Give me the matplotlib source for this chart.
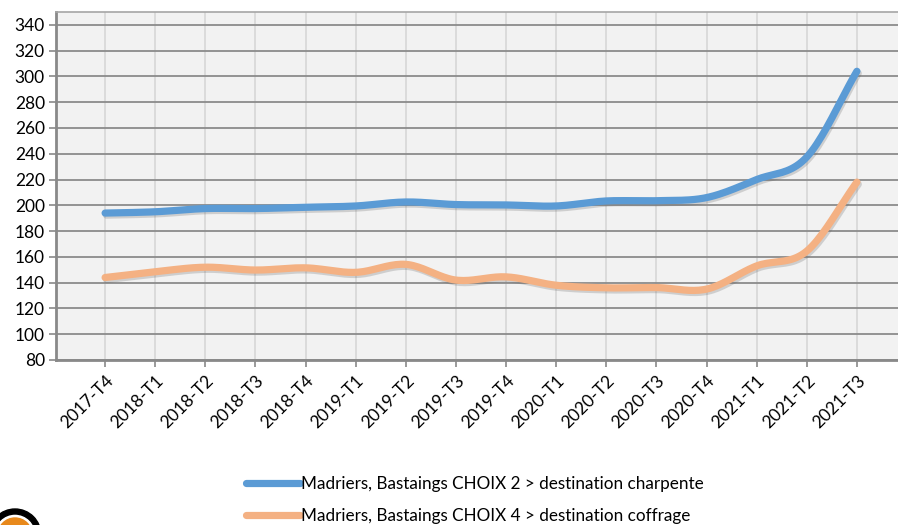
import numpy as np
import matplotlib
matplotlib.use('Agg')
import matplotlib.pyplot as plt
import matplotlib.patheffects as pe
from matplotlib.patches import Wedge, Circle

quarters = ['2017-T4', '2018-T1', '2018-T2', '2018-T3', '2018-T4',
            '2019-T1', '2019-T2', '2019-T3', '2019-T4', '2020-T1',
            '2020-T2', '2020-T3', '2020-T4', '2021-T1', '2021-T2', '2021-T3']
charpente = [194, 195, 197.5, 197.5, 198.5, 199.5, 202.6, 200.6,
             200.3, 199.5, 203.4, 203.6, 206, 220, 237.5, 304]
coffrage = [144, 148.5, 152, 149.8, 151.5, 148, 154.2, 142,
            144.5, 138, 136, 136.2, 135, 153, 164.5, 218]
labels = ['Madriers, Bastaings CHOIX 2 > destination charpente',
          'Madriers, Bastaings CHOIX 4 > destination coffrage']
colors = ['#5b9bd5', '#f4b183']


def smooth(y, n=20):
    # Catmull-Rom through the points, like Excel's smoothed line
    y = np.asarray(y, dtype=float)
    p = np.concatenate([[2 * y[0] - y[1]], y, [2 * y[-1] - y[-2]]])
    xs, ys = [], []
    for i in range(len(y) - 1):
        t = np.linspace(0, 1, n, endpoint=False)
        p0, p1, p2, p3 = p[i], p[i + 1], p[i + 2], p[i + 3]
        yy = 0.5 * ((2 * p1) + (-p0 + p2) * t + (2 * p0 - 5 * p1 + 4 * p2 - p3) * t ** 2
                    + (-p0 + 3 * p1 - 3 * p2 + p3) * t ** 3)
        xs.append(i + t)
        ys.append(yy)
    xs.append([len(y) - 1])
    ys.append([y[-1]])
    return np.concatenate(xs), np.concatenate(ys)


plt.rcParams['font.family'] = ['Lato', 'DejaVu Sans']
fig = plt.figure(figsize=(8.98, 5.25), dpi=100)
ax = fig.add_axes([56 / 898, 1 - 360 / 525, 1 - 56 / 898, 348 / 525])
ax.set_facecolor('#f2f2f2')

x = np.arange(len(quarters))
shadow = [pe.SimpleLineShadow(offset=(1.0, -1.5), shadow_color='0.4', alpha=0.25), pe.Normal()]
for series, lab, col in zip([charpente, coffrage], labels, colors):
    sx, sy = smooth(series)
    ax.plot(sx, sy, color=col, lw=5.2, solid_capstyle='round', label=lab,
            path_effects=shadow, zorder=3)

ax.set_xlim(-0.98, 15.82)
ax.set_ylim(80, 350)
ax.set_yticks(np.arange(80, 341, 20))
ax.set_xticks(x)
ax.set_xticklabels(quarters, rotation=45, ha='right', rotation_mode='anchor')
ax.tick_params(axis='y', labelsize=12.5, length=5, width=1.2, color='#898989', pad=3)
ax.tick_params(axis='x', labelsize=12.5, length=5, width=1.2, color='#898989', pad=4)

ax.grid(axis='y', color='#8c8c8c', lw=1.3)
ax.grid(axis='x', color='#d9d9d9', lw=1.3)
ax.set_axisbelow(True)
for side in ['left', 'bottom']:
    ax.spines[side].set_color('#898989')
    ax.spines[side].set_linewidth(2)
ax.spines['top'].set_color('#a6a6a6')
ax.spines['top'].set_linewidth(1.2)
ax.spines['right'].set_visible(False)

handles, labs = ax.get_legend_handles_labels()
leg = fig.legend(handles, labs, loc='upper left', bbox_to_anchor=(246 / 898, 1 - 476 / 525),
                 frameon=False, fontsize=12.3, handlelength=3.15, handletextpad=0.05,
                 labelspacing=0.95, borderpad=0, borderaxespad=0)
for h in leg.legend_handles:
    h.set_path_effects([])
    h.set_solid_capstyle('round')

# cut-off logo at the bottom left
fig.patches.append(Wedge((15, -10), 26, 0, 180, width=5, color='black',
                         transform=None, figure=fig))
fig.patches.append(Circle((15, -10), 17, color='#e8891c', transform=None, figure=fig))

fig.savefig('out.png', dpi=100)
